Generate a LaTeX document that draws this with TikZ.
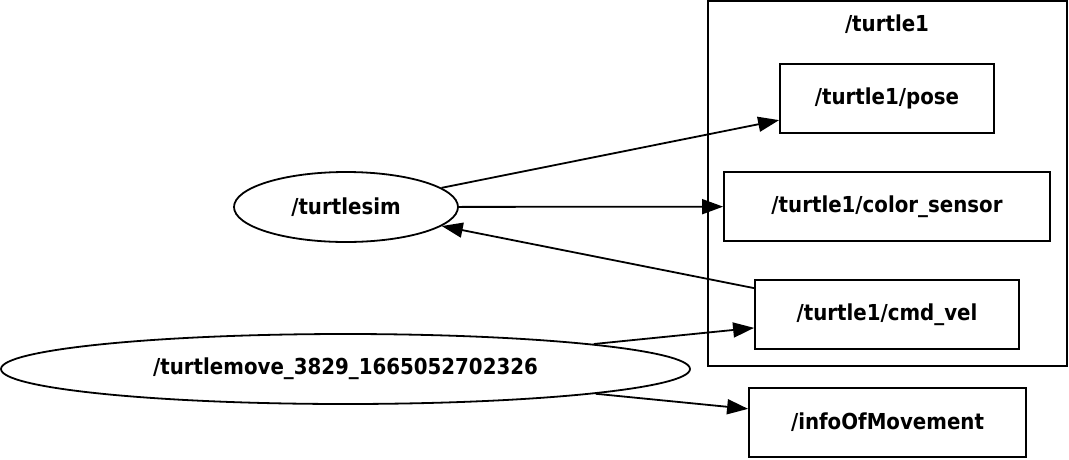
\documentclass[tikz,border=0pt]{standalone}
\usepackage{fontspec}
\setmainfont{DejaVu Sans Condensed}[BoldFont={DejaVu Sans Condensed Bold}]
\usetikzlibrary{shapes.geometric,arrows.meta}
\begin{document}
\begin{tikzpicture}[x=1pt,y=-1pt,
  lbl/.style={font=\fontsize{22}{26}\selectfont\bfseries},
  topic/.style={draw,line width=1.8pt,rectangle,inner sep=0pt,lbl},
  nodeell/.style={draw,line width=1.8pt,ellipse,inner sep=0pt,lbl},
  conn/.style={line width=1.8pt,-{Triangle[length=21pt,width=15pt]}}]
\useasboundingbox (0,0) rectangle (1069,459);
\node[draw,line width=1.8pt,minimum width=359pt,minimum height=365pt,inner sep=0pt] (cluster) at (887.5,183.5) {};
\node[lbl] (clabel) at (887,24) {/turtle1};
\node[topic,minimum width=214pt,minimum height=69pt] (pose) at (887,98.5) {/turtle1/pose};
\node[topic,minimum width=326pt,minimum height=69pt] (color) at (887,206.5) {/turtle1/color\_sensor};
\node[topic,minimum width=264pt,minimum height=69pt] (cmd) at (887,314.5) {/turtle1/cmd\_vel};
\node[topic,minimum width=277pt,minimum height=69pt] (info) at (887.5,422.5) {/infoOfMovement};
\node[nodeell,minimum width=224pt,minimum height=70pt] (sim) at (346,207) {/turtlesim};
\node[nodeell,minimum width=689pt,minimum height=70pt] (move) at (345.5,369) {/turtlemove\_3829\_1665052702326};
\draw[conn] (sim) -- (pose);
\draw[conn] (sim) -- (color);
\draw[conn] (cmd) -- (sim);
\draw[conn] (move) -- (cmd);
\draw[conn] (move) -- (info);
\end{tikzpicture}
\end{document}
